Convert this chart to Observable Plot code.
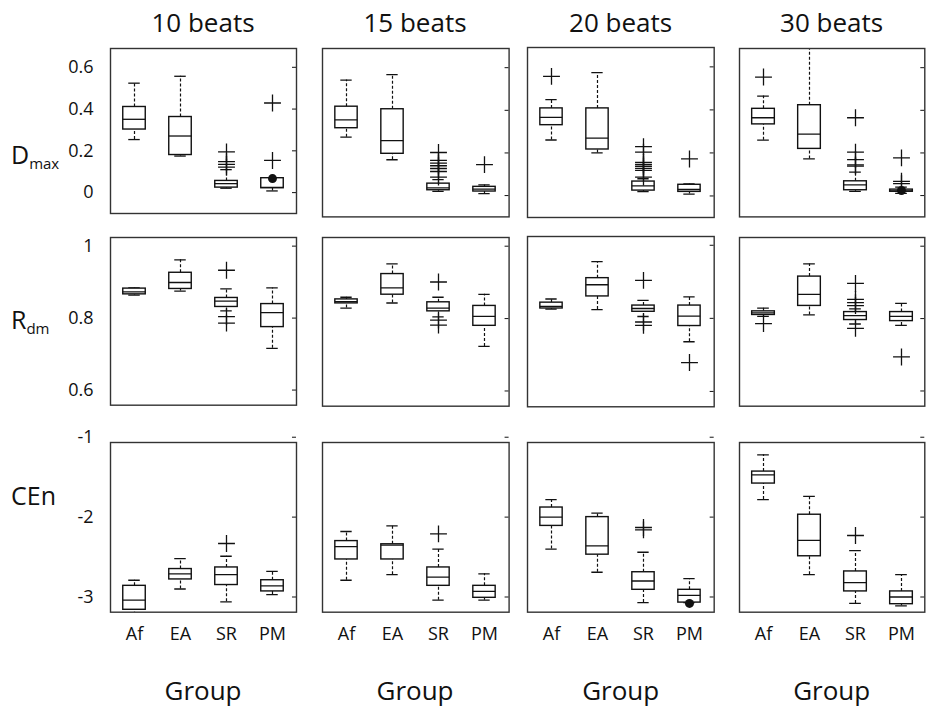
<!DOCTYPE html>
<html>
<head>
<meta charset="utf-8">
<script src="https://cdn.jsdelivr.net/npm/d3@7"></script>
<script src="https://cdn.jsdelivr.net/npm/@observablehq/plot@0.6"></script>
<style>
  html, body { margin: 0; padding: 0; background: #fff; }
  #fig { position: relative; width: 936px; height: 712px; background: #fff; font-family: "Open Sans", sans-serif; color: #111; overflow: hidden; }
  .lbl { position: absolute; white-space: nowrap; transform: translate(-50%, -50%); }
  .rowlbl { position: absolute; white-space: nowrap; transform: translate(0, -50%); font-size: 25px; }
  .rowlbl sub { font-size: 15px; vertical-align: -5px; }
</style>
</head>
<body>
<div id="fig"></div>
<script>
// ---------------- data ----------------
const groups = ["Af", "EA", "SR", "PM"];
const windowLabels = ["10 beats", "15 beats", "20 beats", "30 beats"];
const xTitle = "Group";

// D_max  (rows: window, columns: group Af, EA, SR, PM)
const dmaxHi  = [[0.524, 0.557, 0.110, 0.069], [0.542, 0.567, 0.075, 0.050], [0.448, 0.573, 0.080, 0.056], [0.467, 0.750, 0.110, 0.040]];
const dmaxQ3  = [[0.410, 0.362, 0.056, 0.069], [0.417, 0.405, 0.056, 0.041], [0.407, 0.407, 0.067, 0.052], [0.407, 0.424, 0.067, 0.028]];
const dmaxMed = [[0.351, 0.271, 0.043, 0.025], [0.355, 0.258, 0.036, 0.030], [0.365, 0.269, 0.047, 0.030], [0.365, 0.288, 0.050, 0.022]];
const dmaxQ1  = [[0.302, 0.180, 0.024, 0.021], [0.316, 0.196, 0.025, 0.019], [0.329, 0.216, 0.025, 0.019], [0.334, 0.219, 0.025, 0.018]];
const dmaxLo  = [[0.254, 0.175, 0.021, 0.008], [0.274, 0.168, 0.020, 0.009], [0.260, 0.200, 0.020, 0.009], [0.260, 0.172, 0.020, 0.010]];
const dmaxOut = [
  [[], [], [0.195, 0.148, 0.135, 0.122], [0.429, 0.154]],
  [[], [], [0.202, 0.165, 0.152, 0.140, 0.127, 0.113, 0.087], [0.145]],
  [[0.556], [], [0.229, 0.204, 0.156, 0.147, 0.138, 0.128, 0.119, 0.088], [0.172]],
  [[0.556], [], [0.365, 0.204, 0.169, 0.144, 0.138], [0.177, 0.067, 0.056]]
];
const dmaxDotWindow = [0, 3];
const dmaxDotGroup = ["PM", "PM"];
const dmaxDotValue = [0.067, 0.024];
const dmaxTicks = [0, 0.2, 0.4, 0.6];

// R_dm
const rdmHi  = [[0.884, 0.962, 0.881, 0.884], [0.859, 0.951, 0.859, 0.867], [0.853, 0.955, 0.849, 0.859], [0.829, 0.951, 0.827, 0.842]];
const rdmQ3  = [[0.882, 0.926, 0.856, 0.839], [0.853, 0.923, 0.845, 0.835], [0.843, 0.910, 0.835, 0.835], [0.820, 0.916, 0.818, 0.818]];
const rdmMed = [[0.873, 0.899, 0.847, 0.815], [0.847, 0.885, 0.829, 0.806], [0.833, 0.892, 0.827, 0.806], [0.816, 0.867, 0.808, 0.806]];
const rdmQ1  = [[0.866, 0.881, 0.831, 0.775], [0.842, 0.866, 0.820, 0.780], [0.827, 0.860, 0.818, 0.779], [0.810, 0.835, 0.796, 0.793]];
const rdmLo  = [[0.864, 0.875, 0.820, 0.716], [0.829, 0.843, 0.805, 0.723], [0.825, 0.824, 0.805, 0.736], [0.806, 0.810, 0.785, 0.781]];
const rdmOut = [
  [[], [], [0.933, 0.804, 0.786], []],
  [[], [], [0.901, 0.796, 0.782], []],
  [[], [], [0.904, 0.790, 0.781], [0.679]],
  [[0.786], [], [0.897, 0.853, 0.844, 0.836, 0.773], [0.694]]
];
const rdmTicks = [0.6, 0.8, 1];

// CEn
const cenHi  = [[-2.79, -2.52, -2.49, -2.68], [-2.18, -2.11, -2.40, -2.71], [-1.78, -1.95, -2.44, -2.77], [-1.22, -1.74, -2.42, -2.72]];
const cenQ3  = [[-2.86, -2.65, -2.63, -2.79], [-2.30, -2.34, -2.63, -2.86], [-1.88, -2.00, -2.69, -2.91], [-1.43, -1.97, -2.68, -2.93]];
const cenMed = [[-3.04, -2.71, -2.72, -2.86], [-2.37, -2.35, -2.75, -2.93], [-2.00, -2.36, -2.80, -2.98], [-1.47, -2.29, -2.82, -3.00]];
const cenQ1  = [[-3.16, -2.78, -2.85, -2.93], [-2.53, -2.53, -2.86, -3.01], [-2.11, -2.47, -2.91, -3.07], [-1.58, -2.49, -2.93, -3.09]];
const cenLo  = [[-3.35, -2.90, -3.06, -2.97], [-2.79, -2.72, -3.04, -3.04], [-2.40, -2.69, -3.07, -3.07], [-1.78, -2.72, -3.08, -3.11]];
const cenOut = [
  [[], [], [-2.33], []],
  [[], [], [-2.21], []],
  [[], [], [-2.13, -2.16], []],
  [[], [], [-2.23], []]
];
const cenDotWindow = [2];
const cenDotGroup = ["PM"];
const cenDotValue = [-3.08];
const cenTicks = [-3, -2, -1];

// ---------------- layout ----------------
const colLeft = [110, 321.7, 527.3, 739];
const colRight = [296, 508.3, 714, 924.3];
const rowTop = [[48, 48.3, 46.7, 48.3], [237.3, 237.3, 235.7, 237.3], [442.3, 442.3, 442.3, 442.3]];
const rowBottom = [[213, 216.7, 216.7, 216.7], [405, 406, 406, 406], [612, 612, 612, 612]];
const rowDomain = [[-0.1, 0.69], [0.558, 1.024], [-3.19, -1.066]];

const metrics = [
  {hi: dmaxHi, q3: dmaxQ3, med: dmaxMed, q1: dmaxQ1, lo: dmaxLo, out: dmaxOut, ticks: dmaxTicks,
   dots: dmaxDotWindow.map((w, i) => ({w, g: dmaxDotGroup[i], v: dmaxDotValue[i]}))},
  {hi: rdmHi, q3: rdmQ3, med: rdmMed, q1: rdmQ1, lo: rdmLo, out: rdmOut, ticks: rdmTicks, dots: []},
  {hi: cenHi, q3: cenQ3, med: cenMed, q1: cenQ1, lo: cenLo, out: cenOut, ticks: cenTicks,
   dots: cenDotWindow.map((w, i) => ({w, g: cenDotGroup[i], v: cenDotValue[i]}))}
];

const fig = document.getElementById("fig");
const ink = "#111";

metrics.forEach((m, r) => {
  windowLabels.forEach((wl, c) => {
    const stats = groups.map((g, j) => ({g, hi: m.hi[c][j], q3: m.q3[c][j], med: m.med[c][j], q1: m.q1[c][j], lo: m.lo[c][j]}));
    const outs = groups.flatMap((g, j) => m.out[c][j].map(v => ({g, v})));
    const dots = m.dots.filter(d => d.w === c);
    const left = colLeft[c], right = colRight[c], top = rowTop[r][c], bottom = rowBottom[r][c];
    const ml = c === 0 ? 45 : 1, mr = 1, mt = 1, mb = r === 2 ? 42 : 1;
    const pw = right - left, ph = bottom - top;
    const band = pw / groups.length;
    const boxInset = (band - 23) / 2, capInset = (band - 12) / 2;
    const chart = Plot.plot({
      width: pw + ml + mr,
      height: ph + mt + mb,
      marginLeft: ml, marginRight: mr, marginTop: mt, marginBottom: mb,
      style: {fontFamily: "'Open Sans', sans-serif", fontSize: "18px", color: ink, background: "transparent", overflow: "visible"},
      x: {type: "band", domain: groups, padding: 0, axis: r === 2 ? "bottom" : null, tickSize: 0, tickPadding: 15, label: null},
      y: {domain: rowDomain[r], axis: c === 0 ? "left" : null, ticks: m.ticks, tickSize: 0, tickPadding: 17, tickFormat: d => String(d), label: null},
      marks: [
        Plot.ruleX(stats, {x: "g", y1: "q3", y2: "hi", stroke: ink, strokeWidth: 1.2, strokeDasharray: "3,2", clip: true}),
        Plot.ruleX(stats, {x: "g", y1: "lo", y2: "q1", stroke: ink, strokeWidth: 1.2, strokeDasharray: "3,2", clip: true}),
        Plot.tickY(stats, {x: "g", y: "hi", stroke: ink, strokeWidth: 1.3, insetLeft: capInset, insetRight: capInset, clip: true}),
        Plot.tickY(stats, {x: "g", y: "lo", stroke: ink, strokeWidth: 1.3, insetLeft: capInset, insetRight: capInset, clip: true}),
        Plot.barY(stats, {x: "g", y1: "q1", y2: "q3", fill: "white", stroke: ink, strokeWidth: 1.4, insetLeft: boxInset, insetRight: boxInset, clip: true}),
        Plot.tickY(stats, {x: "g", y: "med", stroke: ink, strokeWidth: 1.3, insetLeft: boxInset, insetRight: boxInset, clip: true}),
        Plot.dot(outs, {x: "g", y: "v", symbol: "plus", r: 5.5, stroke: ink, strokeWidth: 1.3, clip: true}),
        Plot.dot(dots, {x: "g", y: "v", r: 4.5, fill: ink, stroke: "none", clip: true}),
        Plot.tickY(m.ticks, {y: d => d, stroke: ink, strokeWidth: 1, insetLeft: pw - 4}),
        Plot.frame({stroke: "#333", strokeWidth: 1.4})
      ]
    });
    const wrap = document.createElement("div");
    wrap.style.position = "absolute";
    wrap.style.left = (left - ml) + "px";
    wrap.style.top = (top - mt) + "px";
    wrap.appendChild(chart);
    fig.appendChild(wrap);
  });
});

// column titles and x titles
windowLabels.forEach((wl, c) => {
  const cx = (colLeft[c] + colRight[c]) / 2;
  const t = document.createElement("div");
  t.className = "lbl"; t.textContent = wl;
  t.style.left = cx + "px"; t.style.top = "22px"; t.style.fontSize = "26px";
  fig.appendChild(t);
  const g = document.createElement("div");
  g.className = "lbl"; g.textContent = xTitle;
  g.style.left = cx + "px"; g.style.top = "690px"; g.style.fontSize = "26px";
  fig.appendChild(g);
});

// row labels
const rowLabelHTML = ["D<sub>max</sub>", "R<sub>dm</sub>", "CEn"];
const rowLabelY = [155, 320, 495];
rowLabelHTML.forEach((h, r) => {
  const d = document.createElement("div");
  d.className = "rowlbl"; d.innerHTML = h;
  d.style.left = "11px"; d.style.top = rowLabelY[r] + "px";
  fig.appendChild(d);
});
</script>
</body>
</html>
